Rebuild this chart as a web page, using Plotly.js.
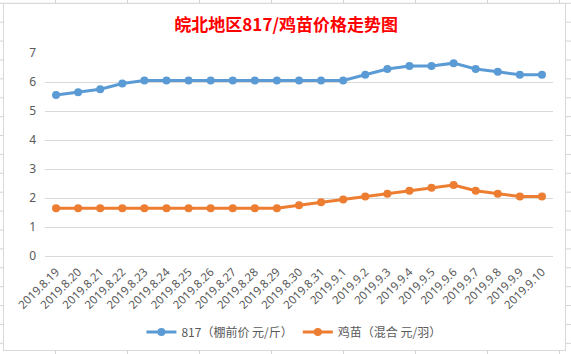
<!DOCTYPE html>
<html>
<head>
<meta charset="utf-8">
<script src="https://cdn.plot.ly/plotly-3.0.1.min.js"></script>
<style>
  html, body { margin: 0; padding: 0; }
  body {
    width: 571px; height: 354px; overflow: hidden; position: relative;
    background-color: #ffffff;
    background-image:
      linear-gradient(to right, #d4d4d4 1px, transparent 1px),
      linear-gradient(to bottom, #d4d4d4 1px, transparent 1px);
    background-size: 72px 18.9px, 72px 18.9px;
    background-position: 55px 0px, 0px 2.8px;
  }
  #frame {
    position: absolute; left: 3px; top: 3px; width: 563px; height: 348px;
    box-sizing: border-box; border: 1px solid #d9d9d9; background: #ffffff;
  }
  #chart { position: absolute; left: 0; top: 0; width: 561px; height: 346px; }
</style>
</head>
<body>
<div id="frame"><div id="chart"></div></div>
<script>
const categories = ["2019.8.19","2019.8.20","2019.8.21","2019.8.22","2019.8.23","2019.8.24","2019.8.25","2019.8.26","2019.8.27","2019.8.28","2019.8.29","2019.8.30","2019.8.31","2019.9.1","2019.9.2","2019.9.3","2019.9.4","2019.9.5","2019.9.6","2019.9.7","2019.9.8","2019.9.9","2019.9.10"];
const price817 = [5.55,5.65,5.75,5.95,6.05,6.05,6.05,6.05,6.05,6.05,6.05,6.05,6.05,6.05,6.25,6.45,6.55,6.55,6.65,6.45,6.35,6.25,6.25];
const chickPrice = [1.65,1.65,1.65,1.65,1.65,1.65,1.65,1.65,1.65,1.65,1.65,1.75,1.85,1.95,2.05,2.15,2.25,2.35,2.45,2.25,2.15,2.05,2.05];
const seriesNames = ["817（棚前价 元/斤）","鸡苗（混合 元/羽）"];
const titleText = "皖北地区817/鸡苗价格走势图";
const yTicks = [0,1,2,3,4,5,6,7];

const fontFam = "'Noto Sans CJK SC', 'Noto Sans', sans-serif";
const traces = [
  {x: categories, y: price817, name: seriesNames[0], type: 'scatter', mode: 'lines+markers',
   line: {color: '#5B9BD5', width: 3}, marker: {color: '#5B9BD5', size: 8}},
  {x: categories, y: chickPrice, name: seriesNames[1], type: 'scatter', mode: 'lines+markers',
   line: {color: '#ED7D31', width: 3}, marker: {color: '#ED7D31', size: 8}}
];
const layout = {
  width: 561, height: 346,
  margin: {l: 41, r: 12, t: 49.3, b: 94},
  paper_bgcolor: '#ffffff', plot_bgcolor: '#ffffff',
  font: {family: fontFam, color: '#595959', size: 11},
  title: {text: titleText, x: 0.503, xref: 'container', y: 1 - 21/346, yref: 'container',
          xanchor: 'center', yanchor: 'middle',
          font: {family: fontFam, size: 17, color: '#FF0000', weight: 'bold'}},
  xaxis: {type: 'category', range: [-0.5, 22.5], tickangle: -45, showgrid: false,
          showline: false, zeroline: false, ticks: '', ticklabelstandoff: 6,
          tickfont: {size: 11.5, color: '#595959', family: "'Noto Sans', sans-serif"}},
  yaxis: {range: [0, 7], tickvals: yTicks, showgrid: true, gridcolor: '#d9d9d9', gridwidth: 1,
          zeroline: true, zerolinecolor: '#d9d9d9', zerolinewidth: 1, showline: false, ticks: '',
          ticklabelstandoff: 8, tickfont: {size: 12, color: '#595959', family: "'Noto Sans', sans-serif"}},
  showlegend: true,
  legend: {orientation: 'h', x: 0.49, xanchor: 'center', y: 1 - 328/346, yref: 'container', yanchor: 'middle',
           font: {size: 12, color: '#595959', family: fontFam}, itemwidth: 30, traceorder: 'normal'}
};
Plotly.newPlot('chart', traces, layout, {displayModeBar: false, staticPlot: true});
</script>
</body>
</html>
